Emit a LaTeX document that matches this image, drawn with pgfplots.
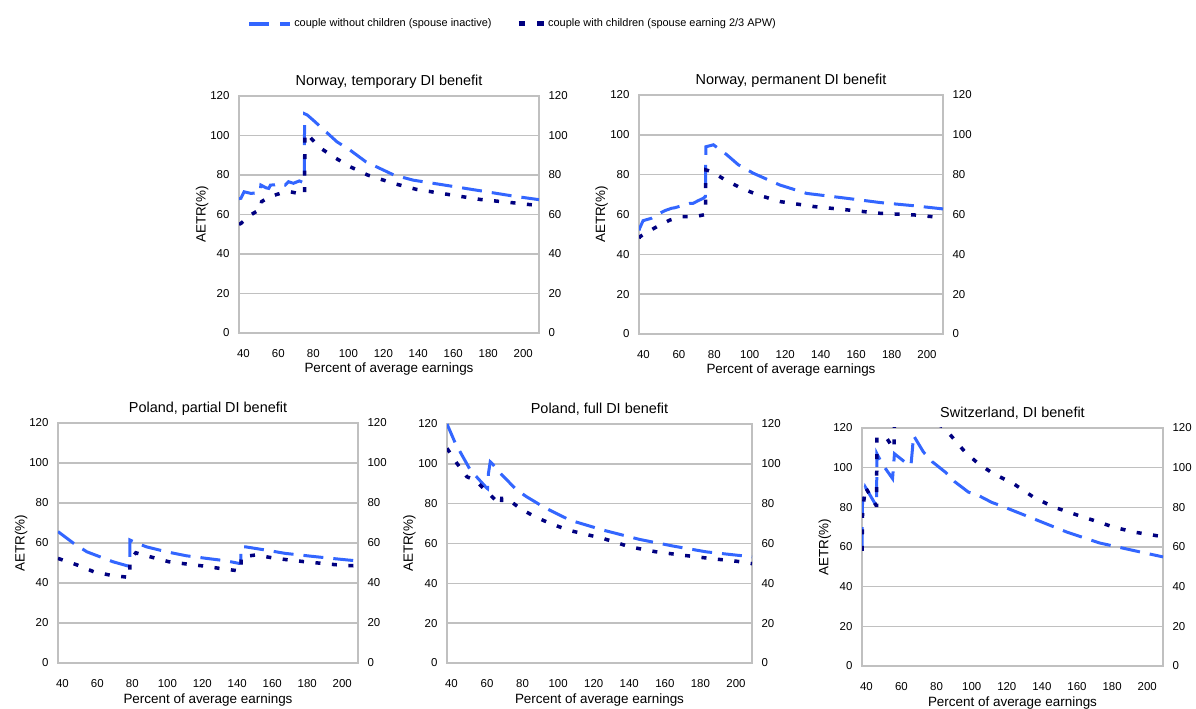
\documentclass[border=0pt]{standalone}
\usepackage{pgfplots}
\pgfplotsset{compat=1.18}
\usepackage{fontspec}
\setmainfont{Liberation Sans}
\definecolor{cblue}{RGB}{51,102,255}
\definecolor{cnavy}{RGB}{0,0,128}
\definecolor{fr}{RGB}{192,192,192}
\pgfplotsset{
 base/.style={scale only axis, xmin=37.5, xmax=209, ymin=0, ymax=120,
   xtick={40,60,...,200}, ytick={0,20,...,120},
   major tick length=0pt,
   /pgf/number format/assume math mode=true,
   tick label style={font=\fontsize{11.5}{12}\selectfont, text=black},
 },
 panel/.style={base,
   axis line style={fr, line width=2bp},
   ymajorgrids, grid style={fr, line width=1.5bp},
   xticklabel style={anchor=north, yshift=-13bp},
   yticklabel style={anchor=east, xshift=-6bp},
   title style={font=\fontsize{14.5}{15}\selectfont, at={(axis description cs:0.5,1)}, anchor=base, yshift=4.5bp},
   xlabel={Percent of average earnings}, ylabel={AETR(\%)},
   label style={font=\fontsize{13.5}{14}\selectfont},
   xlabel style={at={(axis description cs:0.5,0)}, anchor=base, yshift=-40bp},
   ylabel style={at={(axis description cs:-0.123,0.5)}, anchor=center},
 },
 rightax/.style={base, hide x axis, axis line style={draw=none}, yticklabel pos=right,
   yticklabel style={anchor=west, xshift=6bp}},
 bl/.style={cblue, line width=3bp, dash pattern=on 20bp off 10bp},
 nv/.style={cnavy, line width=3.5bp, dash pattern=on 5bp off 11.5bp},
 blleg/.style={legend image code/.code={\draw[cblue, dash pattern=on 20bp off 11bp, line width=4bp] (0bp,0bp) -- (41bp,0bp);}},
 nvleg/.style={legend image code/.code={\draw[cnavy, dash pattern=on 6.5bp off 12bp, line width=4.5bp] (0bp,0bp) -- (25bp,0bp);}},
}
\begin{document}
\begin{tikzpicture}
\useasboundingbox (0,0) rectangle (1196bp,709bp);

% ---------- Panel 1: Norway, temporary ----------
\begin{axis}[panel, at={(239bp,376bp)}, width=300bp, height=237bp,
  title={Norway, temporary DI benefit},
  legend columns=2, legend cell align=left,
  legend style={at={(axis description cs:0.912,1.305)}, anchor=center, draw=none, fill=none,
    font=\fontsize{11}{12}\selectfont,
    /tikz/every even column/.append style={column sep=23bp}}]
\addplot[bl, blleg] coordinates {
(37.5,68) (38.6,68.2) (40.4,71.5) (44.2,70.7) (49.5,71) (50,74.9) (53,73.5) (54.5,73.2) (55.5,74.9) (58,75) (61,75.8) (63.9,74.9) (65.8,76.6) (68.6,75.8) (72,77) (74.8,76) (75,111) (76.5,110.4) (80.5,107.3) (93.5,96.8) (101,92.6) (110,86.7) (126,80) (137,77.4) (158.5,74.4) (175.5,72) (194.5,69.3) (209,67.5)};
\addlegendentry{couple without children (spouse inactive)}
\addplot[nv, nvleg] coordinates {
(37.5,55) (38.6,55.5) (44,59.7) (48.9,62.3) (50,62.5) (50.4,66.5) (55,69) (61.1,70.7) (66.7,71.5) (74.2,70.2) (75,70) (75.2,101) (77,100.2) (83.5,94) (91.5,89.2) (101,84.2) (111,80) (126,75.7) (139,72.7) (156,70.3) (175.5,67.6) (194.5,65.9) (209,64.5)};
\addlegendentry{couple with children (spouse earning 2/3 APW)}
\end{axis}
\begin{axis}[rightax, at={(239bp,376bp)}, width=300bp, height=237bp]
\end{axis}

% ---------- Panel 2: Norway, permanent ----------
\begin{axis}[panel, at={(639bp,375bp)}, width=304bp, height=239bp,
  title={Norway, permanent DI benefit}]
\addplot[bl] coordinates {
(37.5,52) (37.9,53.1) (39.8,56.9) (44.5,58.1) (49.2,60.6) (52,61.9) (55.8,63.1) (57.7,63.4) (63.3,64.8) (66.2,65.6) (68,65.6) (70.8,66.9) (73.7,68.1) (75,69) (75.2,94) (79.5,95) (87,90) (93.5,85) (102,80.7) (117,74.8) (132,70.6) (155,68.1) (173.5,66) (192.5,64.4) (209,62.8)};
\addplot[nv] coordinates {
(37.5,48) (37.9,48.8) (43.5,51.8) (49.2,54.7) (54.9,57.2) (61.5,58.9) (69,58.9) (75,60) (75.2,82.4) (78.4,81.5) (86.9,77) (95.4,73.1) (104.8,69.8) (117,66.5) (136,64) (155,62.3) (173.5,60.6) (192.5,59.8) (209,58.4)};
\end{axis}
\begin{axis}[rightax, at={(639bp,375bp)}, width=304bp, height=239bp]
\end{axis}

% ---------- Panel 3: Poland, partial ----------
\begin{axis}[panel, at={(58bp,46bp)}, width=300bp, height=240bp,
  title={Poland, partial DI benefit}]
\addplot[bl] coordinates {
(37.5,65.7) (46.5,59.8) (54,55.6) (61.5,53.1) (69,50.6) (77.5,48.5) (78.5,48.3) (78.6,61.5) (80.5,60.7) (88,58.1) (99.5,55.6) (111,53.6) (122.5,52.3) (133.5,51.1) (141,49.8) (142,50) (142.2,58.1) (144.5,58.1) (156,56.5) (167.5,54.8) (181,53.5) (194,52.3) (209,51)};
\addplot[nv] coordinates {
(37.5,52.3) (48.5,49) (58,45.6) (67.5,43.9) (78,42.8) (78.5,42.8) (78.7,51.5) (82,55.1) (91.5,52.8) (101,50.6) (111,49.5) (120.5,48.5) (130,47.3) (140.5,46.1) (142,46) (142.3,53.1) (150.5,54) (160,52.6) (169.5,51.5) (179,50.6) (188.5,49.8) (198,49) (209,48.5)};
\end{axis}
\begin{axis}[rightax, at={(58bp,46bp)}, width=300bp, height=240bp]
\end{axis}

% ---------- Panel 4: Poland, full ----------
\begin{axis}[panel, at={(447bp,46bp)}, width=305bp, height=239bp,
  title={Poland, full DI benefit}]
\addplot[bl] coordinates {
(37.5,120) (42.2,110.3) (50.6,96.9) (60,87.7) (60.3,87.5) (60.8,95.2) (61.8,101) (63.6,99.4) (68.4,94.4) (76.8,86.8) (82.4,83.4) (91.7,78.4) (98.3,75.4) (106.7,71.7) (125.4,66.7) (146,62) (164.7,58.7) (183.3,55.8) (209,53.3)};
\addplot[nv] coordinates {
(37.5,107.8) (43.1,100.2) (48.7,93.5) (53.4,91.8) (60.8,85.2) (67.4,79.6) (68,79.4) (68.3,82.6) (71.2,82.6) (78.6,77.6) (87,73.4) (95.5,70.1) (105.7,66.7) (125.4,62.5) (140.4,58.3) (155.2,55.8) (170.3,54.1) (185.3,52.5) (200.2,51.1) (209,49.9)};
\end{axis}
\begin{axis}[rightax, at={(447bp,46bp)}, width=305bp, height=239bp]
\end{axis}

% ---------- Panel 5: Switzerland ----------
\begin{axis}[panel, at={(862bp,43bp)}, width=301bp, height=238bp,
  title={Switzerland, DI benefit}]
\addplot[bl] coordinates {
(37.5,60) (37.8,83) (39.4,90.2) (45.5,81) (45.8,81) (46,107) (48.9,102) (54.9,94.5) (56,107) (63.1,102) (65.4,101.2) (66.3,110) (66.8,116.3) (72.5,107.9) (77.5,103) (84.9,97.8) (90.5,92.8) (98.1,87.7) (103.8,86) (111.4,82.5) (116.1,81) (135.1,74.3) (154,67.6) (173,62) (191.9,58.3) (209,55)};
\addplot[nv] coordinates {
(37.5,58) (37.8,77) (39.4,90.2) (45.5,81) (45.8,81) (46,115.5) (51.7,114.7) (55.5,109.5) (55.8,109.5) (56,130) (70,126) (83.9,120.5) (89.6,114.7) (96.2,107.9) (103.8,102) (112.3,97) (123.7,92) (135.1,85.2) (146.5,80.2) (157.8,76.8) (169.2,73.5) (180.6,70.1) (191.9,67.6) (206.1,65.6) (209,65)};
\end{axis}
\begin{axis}[rightax, at={(862bp,43bp)}, width=301bp, height=238bp]
\end{axis}
\end{tikzpicture}
\end{document}
